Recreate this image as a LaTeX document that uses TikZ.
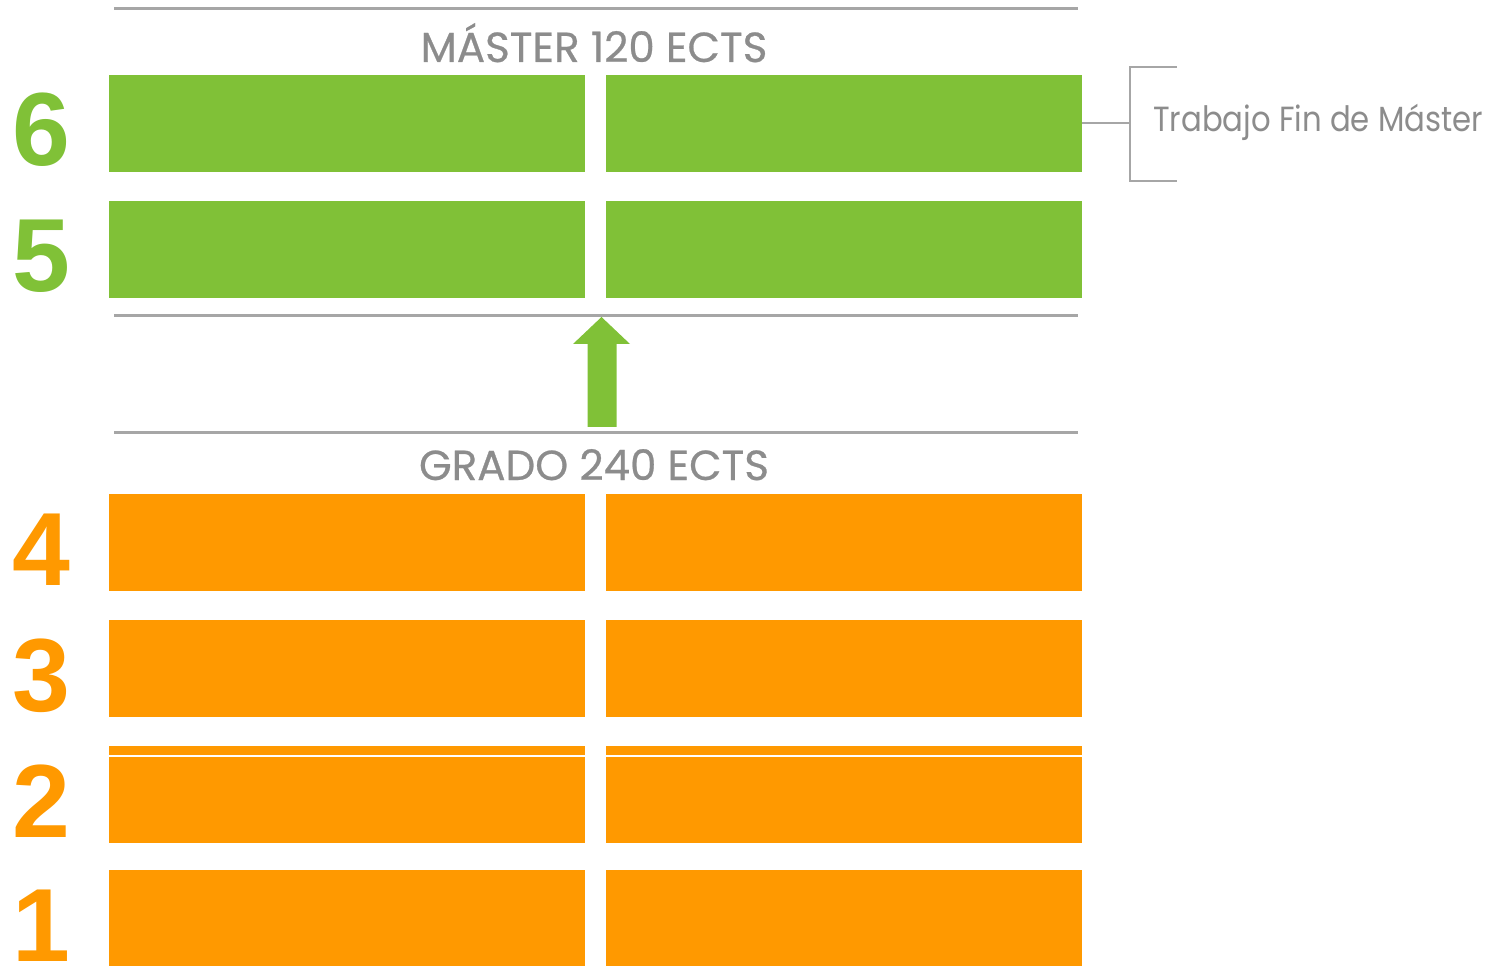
\documentclass[tikz,border=0pt]{standalone}
\usepackage{fontspec}
\setmainfont{Poppins}
\newfontfamily\digitfont{Liberation Sans}
\newfontfamily\headfont{Poppins}[FakeBold=0.6]
\newfontfamily\labelfont{Poppins}[FakeStretch=0.88]
\usetikzlibrary{calc}
\definecolor{mgreen}{RGB}{128,193,55}
\definecolor{morange}{RGB}{255,153,0}
\definecolor{lgrey}{RGB}{166,166,166}
\definecolor{tgrey}{RGB}{140,140,140}
\tikzset{
  blk/.style={rectangle, inner sep=0pt, minimum width=357pt, minimum height=72.75pt},
  rule/.style={draw=lgrey, line width=2.25pt},
  brk/.style={draw=lgrey, line width=1.5pt},
  digit/.style={font=\digitfont\bfseries\fontsize{78}{78}\selectfont, anchor=base, inner sep=0pt},
  head/.style={font=\headfont\fontsize{31.5}{31.5}\selectfont, text=tgrey, anchor=base, inner sep=0pt},
}
\begin{document}
\begin{tikzpicture}[x=0.75pt,y=0.75pt,yscale=-1,xscale=1]
\useasboundingbox (0,0) rectangle (1490,966);

%Straight Lines: rules
\draw [rule] (114,9) -- (1078,9);
\draw [rule] (114,316) -- (1078,316);
\draw [rule] (114,433) -- (1078,433);

%Shape: Rectangles and year numbers
\foreach \n/\yc/\col in {6/123.5/mgreen,5/249.5/mgreen,4/542.5/morange,3/668.5/morange,2/794.5/morange,1/918.5/morange} {
  \node [blk, fill=\col] (l\n) at (347,\yc) {};
  \node [blk, fill=\col] (r\n) at (844,\yc) {};
  \node [digit, text=\col] (d\n) at (41,\yc+42.5) {\n};
}
%Straight Lines: thin gap in year 2
\draw [white, line width=1.1pt] (l2.west |- 0,756) -- (l2.east |- 0,756);
\draw [white, line width=1.1pt] (r2.west |- 0,756) -- (r2.east |- 0,756);

%Shape: Up Arrow
\coordinate (tip) at (601.5,317);
\fill [mgreen] (tip) -- ++(28.5,27) -- ++(-13.5,0) -- ++(0,83) -- ++(-29,0) -- ++(0,-83) -- ++(-14.5,0) -- cycle;

%Shape: Bracket
\coordinate (bk) at (1130,123.5);
\draw [brk] (r6.east) -- (bk);
\draw [brk] (1177,67.5) -- (1130,67.5) -- (1130,181) -- (1177,181);

% Text Node
\node [head] (tm) at (594,62) {MÁSTER 120 ECTS};
% Text Node
\node [head] (tg) at (594,480) {GRADO 240 ECTS};
% Text Node
\node [font=\labelfont\fontsize{26.2}{26.2}\selectfont, text=tgrey, anchor=base west, inner sep=0pt] (tfm) at (1153,132) {Trabajo Fin de Máster};

\end{tikzpicture}
\end{document}
